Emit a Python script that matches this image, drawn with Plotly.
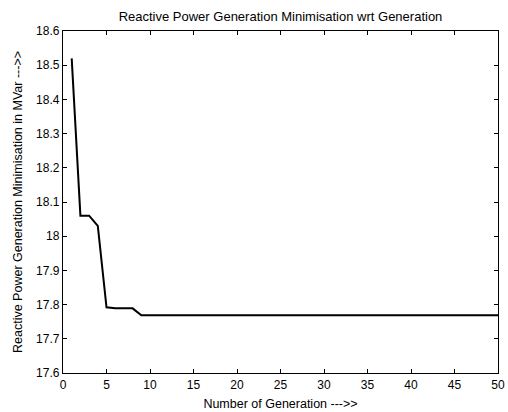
import plotly.graph_objects as go

generations = list(range(1, 51))
reactive_power = [18.52, 18.06, 18.06, 18.03, 17.792, 17.789, 17.789, 17.789] + [17.769] * 42

x_ticks = [0, 5, 10, 15, 20, 25, 30, 35, 40, 45, 50]
y_ticks = [17.6, 17.7, 17.8, 17.9, 18.0, 18.1, 18.2, 18.3, 18.4, 18.5, 18.6]
y_tick_text = ["17.6", "17.7", "17.8", "17.9", "18", "18.1", "18.2", "18.3", "18.4", "18.5", "18.6"]

fig = go.Figure()
fig.add_trace(go.Scatter(x=generations, y=reactive_power, mode="lines",
                         line=dict(color="black", width=2), showlegend=False))

FAM = "Liberation Sans, Arial, sans-serif"
tick_font = dict(family=FAM, size=12, color="black")
title_font = dict(family=FAM, size=12.5, color="black")

fig.update_layout(
    width=508, height=412,
    margin=dict(l=63, r=10, t=31, b=39),
    paper_bgcolor="white", plot_bgcolor="white",
    font=tick_font,
    title=dict(text="Reactive Power Generation Minimisation wrt Generation",
               x=(63 + 498) / 2 / 508, xanchor="center", y=1 - 16 / 412, yanchor="middle",
               font=dict(family=FAM, size=13, color="black")),
    xaxis=dict(range=[0, 50], tickvals=x_ticks, ticks="inside", ticklen=4, tickcolor="black",
               tickfont=tick_font, automargin=False,
               showline=True, linecolor="black", linewidth=1.3, mirror="ticks",
               showgrid=False, zeroline=False,
               title=dict(text="Number of Generation --->>", standoff=8, font=title_font)),
    yaxis=dict(range=[17.6, 18.6], tickvals=y_ticks, ticktext=y_tick_text, ticks="inside",
               ticklen=4, tickcolor="black", tickfont=tick_font, automargin=False,
               showline=True, linecolor="black", linewidth=1.3, mirror="ticks",
               showgrid=False, zeroline=False,
               title=dict(text="Reactive Power Generation Minimisation in MVar --->>", standoff=10, font=title_font)),
)

fig.write_html("out.html")
